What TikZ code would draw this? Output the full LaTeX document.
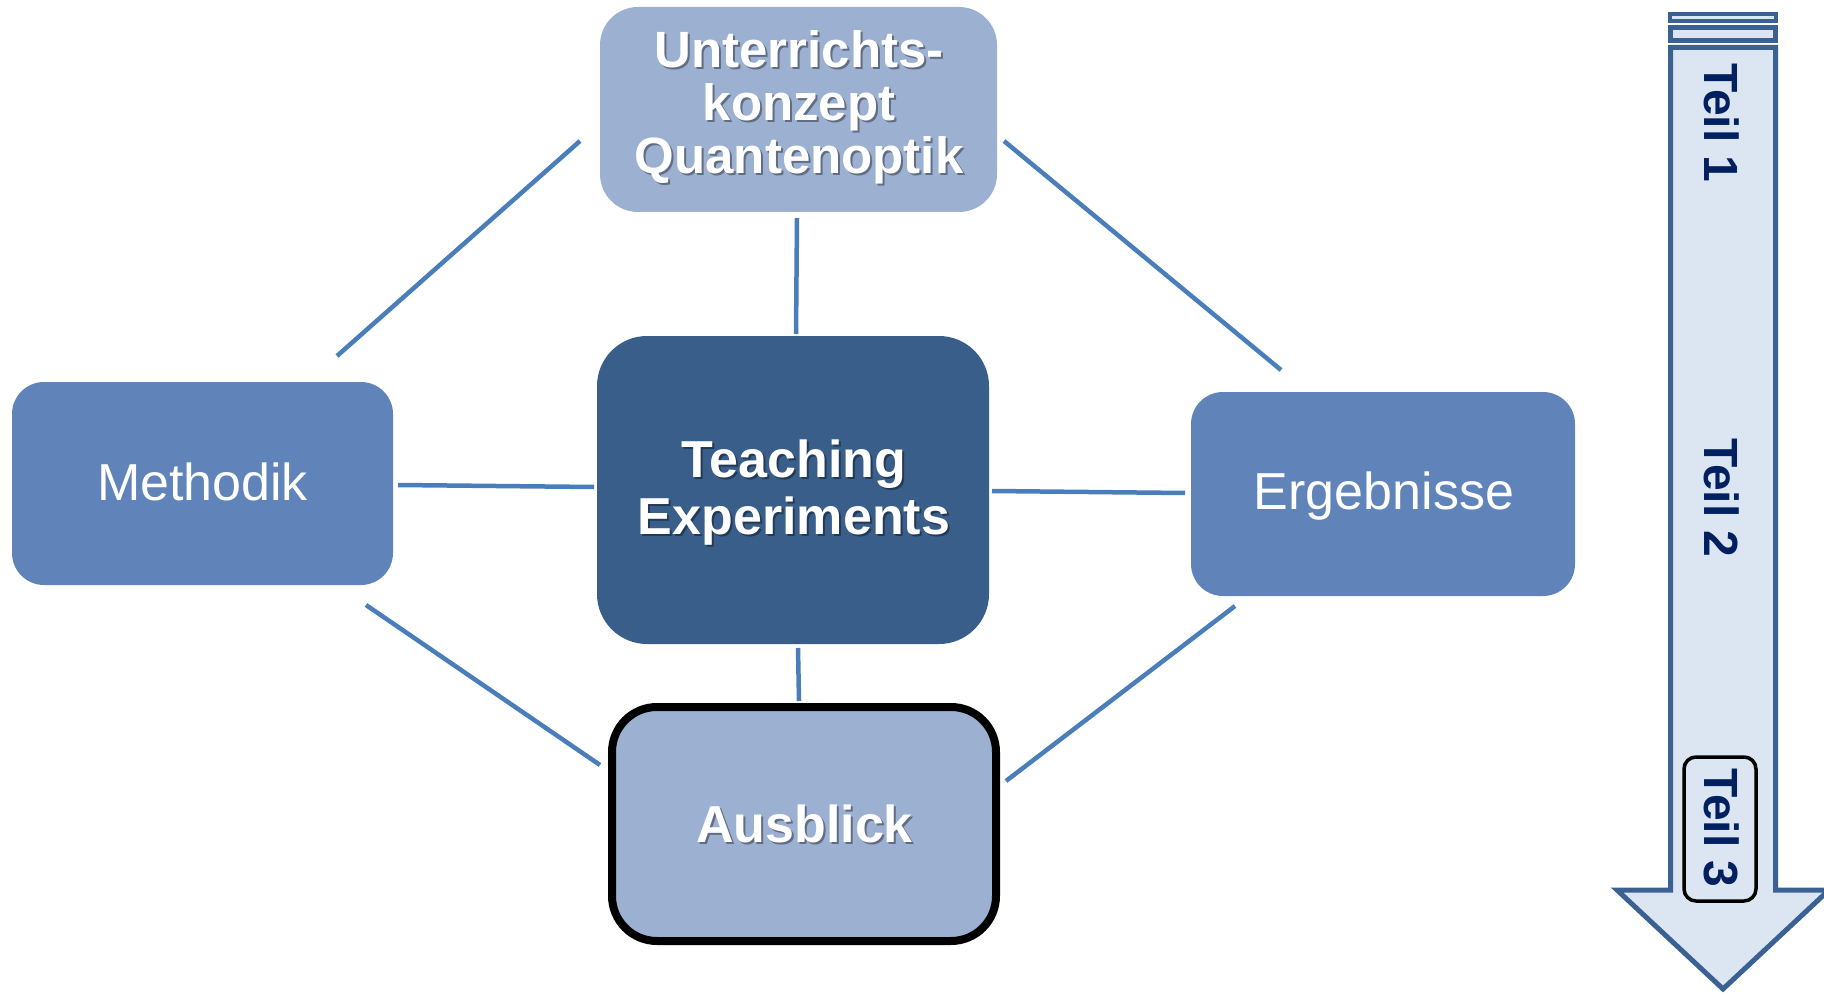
\documentclass[tikz,border=0pt]{standalone}
\usepackage{fontspec}
\setmainfont{Liberation Sans}
\definecolor{linkblue}{HTML}{4A7EBB}
\definecolor{paleblue}{HTML}{9CB0D2}
\definecolor{midblue}{HTML}{6084B9}
\definecolor{darkblue}{HTML}{3A5E8A}
\definecolor{arrowfill}{HTML}{DCE6F2}
\definecolor{arrowedge}{HTML}{3B6192}
\definecolor{navy}{HTML}{002060}
\begin{document}
\begin{tikzpicture}[x=1pt,y=-1pt,
  box/.style={rectangle,inner sep=0pt,draw=none},
  link/.style={draw=linkblue,line width=4.5pt},
  boldlabel/.style={text=white,font=\bfseries,align=center,inner sep=0pt},
  plainlabel/.style={text=white,inner sep=0pt},
  shade/.style={text=black,text opacity=0.38,font=\bfseries,align=center,inner sep=0pt},
  arrowline/.style={draw=arrowedge,line width=5pt,fill=arrowfill,line join=miter},
  teil/.style={text=navy,font=\bfseries\fontsize{48}{52}\selectfont,rotate=-90,inner sep=0pt}]
\useasboundingbox (0,0) rectangle (1824,995);
\clip (0,0) rectangle (1824,995);

% boxes of the cycle
\node[box,fill=paleblue,minimum width=397pt,minimum height=205pt,rounded corners=38pt] (konzept) at (798.5,109.5) {};
\node[box,fill=darkblue,minimum width=392pt,minimum height=308pt,rounded corners=50pt] (teaching) at (793,490) {};
\node[box,fill=midblue,minimum width=381pt,minimum height=203pt,rounded corners=32pt] (methodik) at (202.5,483.5) {};
\node[box,fill=midblue,minimum width=384pt,minimum height=204pt,rounded corners=32pt] (ergebnisse) at (1383,494) {};
\node[box,fill=paleblue,draw=black,line width=8pt,minimum width=384pt,minimum height=234pt,rounded corners=45pt] (ausblick) at (804,824) {};

% labels with soft shadow
\node[shade,font=\bfseries\fontsize{51}{53}\selectfont] at (801,109) {Unterrichts-\\konzept\\Quantenoptik};
\node[boldlabel,font=\bfseries\fontsize{51}{53}\selectfont] (konzepttext) at (799,107) {Unterrichts-\\konzept\\Quantenoptik};
\node[shade,font=\bfseries\fontsize{52}{57}\selectfont] at (796,495) {Teaching\\Experiments};
\node[boldlabel,font=\bfseries\fontsize{52}{57}\selectfont] (teachingtext) at (794,493) {Teaching\\Experiments};
\node[shade,font=\bfseries\fontsize{52}{57}\selectfont,anchor=base] at (806.5,844) {Ausblick};
\node[boldlabel,font=\bfseries\fontsize{52}{57}\selectfont,anchor=base] (ausblicktext) at (804.5,842) {Ausblick};
\node[plainlabel,font=\fontsize{52}{57}\selectfont,anchor=base] (methodiktext) at (202.5,500) {Methodik};
\node[plainlabel,font=\fontsize{52}{57}\selectfont,anchor=base] (ergebnissetext) at (1384,509) {Ergebnisse};

% connector ends
\coordinate (k1) at (580,141);  \coordinate (m1) at (337,356);
\coordinate (k2) at (1004,141); \coordinate (e1) at (1281,370);
\coordinate (k3) at (797,218);  \coordinate (t1) at (796,334);
\coordinate (m2) at (398,485);  \coordinate (t2) at (594,487);
\coordinate (t3) at (992,491);  \coordinate (e2) at (1185,493);
\coordinate (t4) at (798,648);  \coordinate (a1) at (799,701);
\coordinate (m3) at (366,605);  \coordinate (a2) at (600,765);
\coordinate (e3) at (1235,606); \coordinate (a3) at (1006,781);

\draw[link] (k1) -- (m1);
\draw[link] (k2) -- (e1);
\draw[link] (k3) -- (t1);
\draw[link] (m2) -- (t2);
\draw[link] (t3) -- (e2);
\draw[link] (t4) -- (a1);
\draw[link] (m3) -- (a2);
\draw[link] (e3) -- (a3);

% progress arrow
\draw[arrowedge,line width=4pt,fill=arrowfill] (1670,14) rectangle (1776,21.5);
\draw[arrowline] (1670.5,27.5) rectangle (1775.5,40.5);
\draw[arrowline] (1670.5,47.5) -- (1670.5,890) -- (1617,890) -- (1723,989)
  -- (1829,890) -- (1775.5,890) -- (1775.5,47.5) -- cycle;

\node[draw=black,line width=3.5pt,rounded corners=12pt,minimum width=72pt,minimum height=144pt,inner sep=0pt] (marker) at (1720,829) {};
\node[teil] (teil1) at (1722,123) {Teil 1};
\node[teil] (teil2) at (1722,498) {Teil 2};
\node[teil] (teil3) at (1722,828) {Teil 3};
\end{tikzpicture}
\end{document}
